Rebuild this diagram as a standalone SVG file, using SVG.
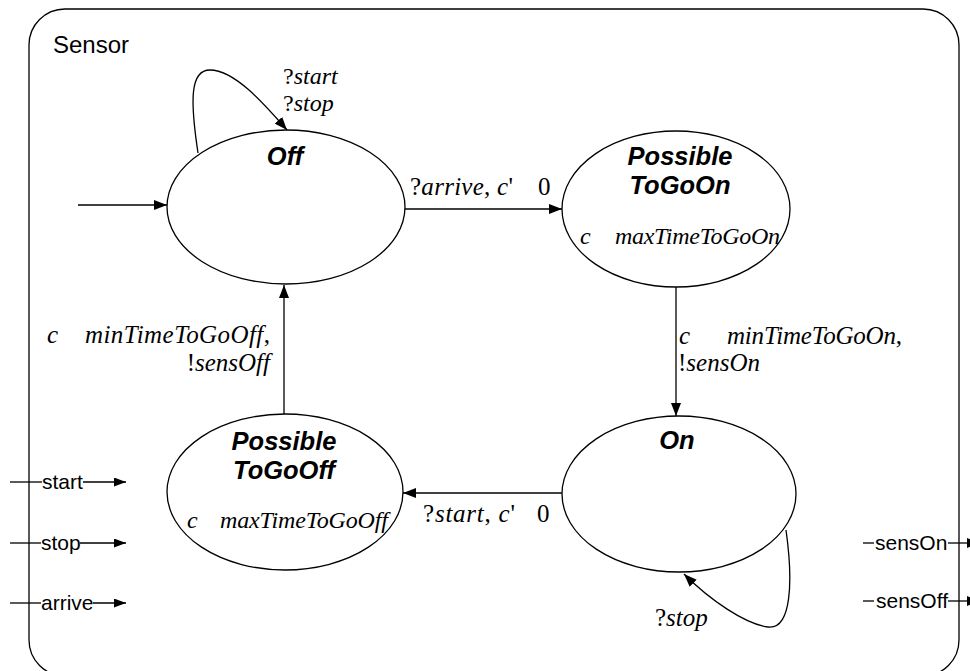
<svg xmlns="http://www.w3.org/2000/svg" width="970" height="671" viewBox="0 0 970 671">
<defs>
<marker id="ah" markerWidth="13" markerHeight="10" refX="13" refY="5" orient="auto" markerUnits="userSpaceOnUse"><path d="M0,0 L13,5 L0,10 z" fill="#000"/></marker>
<marker id="ap" markerWidth="12" markerHeight="9" refX="12" refY="4.5" orient="auto" markerUnits="userSpaceOnUse"><path d="M0,0 L12,4.5 L0,9 z" fill="#000"/></marker>
</defs>
<style>
.st{fill:#fff;stroke:#000;stroke-width:1.3}
.nm{font-family:"Liberation Sans",Arial,sans-serif;font-size:25.5px;font-weight:bold;font-style:italic;text-anchor:middle}
.tm{font-family:"Liberation Serif","Times New Roman",serif;font-size:24px}
.gd{font-family:"Liberation Serif","Times New Roman",serif;font-size:25px}
.i{font-style:italic}
.pt{font-family:"Liberation Sans",Arial,sans-serif;font-size:21px}
.cn{fill:none;stroke:#000;stroke-width:1.3}
</style>
<rect x="29" y="9" width="930" height="667" rx="36" fill="#fff" stroke="#000" stroke-width="1.3"/>
<text x="53" y="53" font-family="Liberation Sans, Arial, sans-serif" font-size="24">Sensor</text>

<g id="Off">
<ellipse class="st" cx="286" cy="207" rx="119" ry="77"/>
<text class="nm" x="285" y="165">Off</text>
</g>
<g id="PossibleToGoOn">
<ellipse class="st" cx="676" cy="209" rx="114" ry="78"/>
<text class="nm" x="680" y="165">Possible</text>
<text class="nm" x="680" y="194">ToGoOn</text>
<text class="tm i" x="580" y="244">c</text>
<text class="tm i" x="615" y="244" textLength="165">maxTimeToGoOn</text>
</g>
<g id="On">
<ellipse class="st" cx="679" cy="494" rx="117" ry="78"/>
<text class="nm" x="677" y="449">On</text>
</g>
<g id="PossibleToGoOff">
<ellipse class="st" cx="285" cy="492" rx="118" ry="78"/>
<text class="nm" x="284" y="450">Possible</text>
<text class="nm" x="284" y="479">ToGoOff</text>
<text class="tm i" x="187" y="528">c</text>
<text class="tm i" x="220" y="528" textLength="168">maxTimeToGoOff</text>
</g>

<g id="connectors">
<line class="cn" x1="78" y1="205" x2="167" y2="205" marker-end="url(#ah)"/>
<path class="cn" d="M198,153 C190,100 190,70 210,70 C235,70 265,105 287,130" marker-end="url(#ah)"/>
<text class="tm" x="283" y="84">?<tspan class="i">start</tspan></text>
<text class="tm" x="283" y="111">?<tspan class="i">stop</tspan></text>

<line class="cn" x1="405" y1="209" x2="562" y2="209" marker-end="url(#ah)"/>
<text class="gd" x="410" y="195" textLength="103">?<tspan class="i">arrive</tspan>, <tspan class="i">c</tspan>'</text>
<text class="gd" x="538" y="195">0</text>

<line class="cn" x1="676" y1="287" x2="676" y2="416" marker-end="url(#ah)"/>
<text class="gd i" x="679" y="344">c</text>
<text class="gd" x="727" y="344" textLength="175"><tspan class="i">minTimeToGoOn</tspan>,</text>
<text class="gd" x="678" y="371">!<tspan class="i">sensOn</tspan></text>

<line class="cn" x1="562" y1="493" x2="403" y2="493" marker-end="url(#ah)"/>
<text class="gd" x="423" y="522" textLength="92">?<tspan class="i">start</tspan>, <tspan class="i">c</tspan>'</text>
<text class="gd" x="537" y="522">0</text>

<path class="cn" d="M786,530 C793,580 792,630 768,627 C745,624 710,600 684,574" marker-end="url(#ah)"/>
<text class="gd" x="655" y="626">?<tspan class="i">stop</tspan></text>

<line class="cn" x1="284" y1="414" x2="284" y2="285" marker-end="url(#ah)"/>
<text class="gd i" x="47" y="343">c</text>
<text class="gd" x="85" y="343" textLength="185"><tspan class="i">minTimeToGoOff</tspan>,</text>
<text class="gd" x="270" y="371" text-anchor="end">!<tspan class="i">sensOff</tspan></text>
</g>

<g id="ports">
<line class="cn" x1="10" y1="482" x2="42" y2="482"/>
<text class="pt" x="42" y="489">start</text>
<line class="cn" x1="83" y1="482" x2="126" y2="482" marker-end="url(#ap)"/>
<line class="cn" x1="10" y1="543" x2="41" y2="543"/>
<text class="pt" x="41" y="550">stop</text>
<line class="cn" x1="80" y1="543" x2="126" y2="543" marker-end="url(#ap)"/>
<line class="cn" x1="10" y1="603" x2="41" y2="603"/>
<text class="pt" x="41" y="610">arrive</text>
<line class="cn" x1="93" y1="603" x2="126" y2="603" marker-end="url(#ap)"/>

<line class="cn" x1="863" y1="543" x2="874" y2="543"/>
<text class="pt" x="875" y="550">sensOn</text>
<line class="cn" x1="948" y1="543" x2="970" y2="543"/>
<path d="M967,538 L978,543 L967,548 z" fill="#000"/>
<line class="cn" x1="863" y1="601" x2="874" y2="601"/>
<text class="pt" x="876" y="608">sensOff</text>
<line class="cn" x1="948" y1="601" x2="970" y2="601"/>
<path d="M967,596 L978,601 L967,606 z" fill="#000"/>
</g>
</svg>
